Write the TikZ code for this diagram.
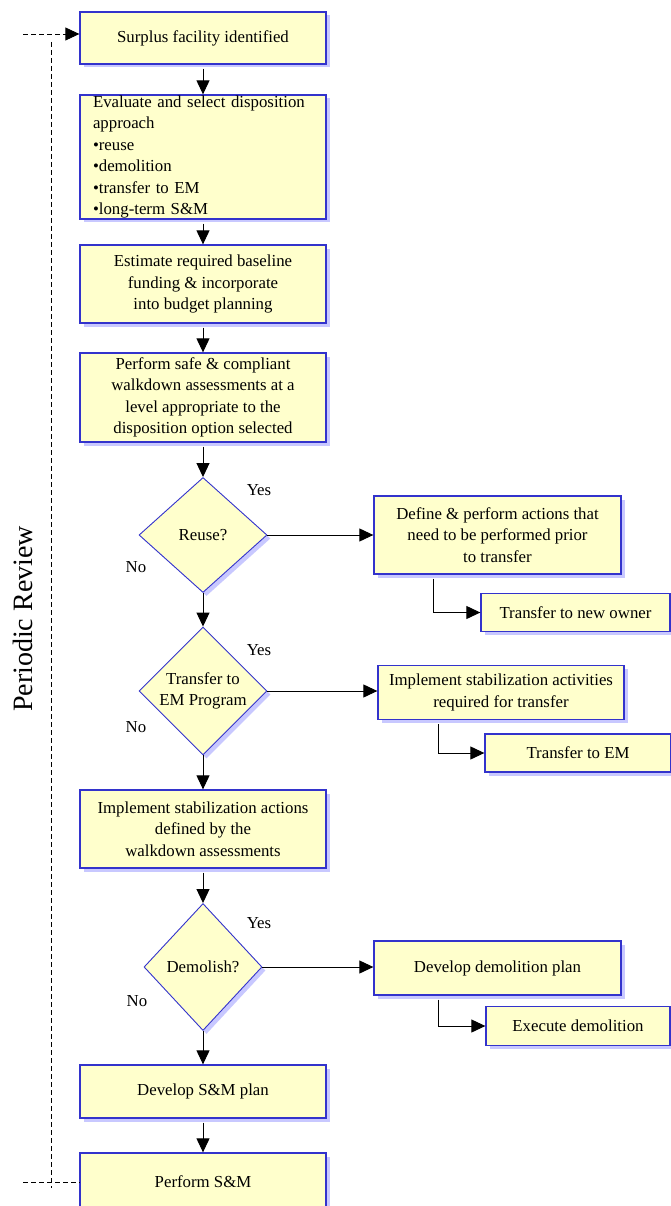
\documentclass[tikz,border=0pt]{standalone}
\usepackage{fontspec}
\setmainfont{Liberation Serif}
\usetikzlibrary{arrows.meta,shapes.geometric,shadows}
\definecolor{boxfill}{RGB}{255,255,204}
\definecolor{boxline}{RGB}{51,51,204}
\definecolor{boxshade}{RGB}{200,200,255}

\begin{document}
\begin{tikzpicture}[x=1pt, y=-1pt,
    font=\fontsize{16.8}{21.5}\selectfont,
    boxshadow/.style={drop shadow={shadow xshift=3.5pt, shadow yshift=-3.5pt, fill=boxshade, opacity=1}},
    stepbox/.style={draw=boxline, line width=1.3pt, fill=boxfill, boxshadow, align=center, inner sep=0pt, minimum width=246pt},
    test/.style={diamond, draw=boxline, line width=0.9pt, fill=boxfill, boxshadow, align=center, inner sep=0pt, minimum width=128pt},
    flow/.style={-{Triangle[length=14pt,width=13pt]}, line width=1pt, shorten <=4pt},
    review/.style={dash pattern=on 5pt off 3pt, line width=0.8pt}]
    \path[use as bounding box, clip] (0,0) rectangle (671,1206);

    % main column
    \node[stepbox, minimum height=52pt] (found) at (203,38) {Surplus facility identified};
    \node[stepbox, minimum height=124pt, align=left, text width=220pt] (select) at (203,157)
        {Evaluate and select disposition\\approach\\•reuse\\•demolition\\•transfer to EM\\•long-term S\&M};
    \node[stepbox, minimum height=78pt] (budget) at (203,284) {Estimate required baseline\\funding \& incorporate\\into budget planning};
    \node[stepbox, minimum height=89pt] (walkdown) at (203,397.5) {Perform safe \& compliant\\walkdown assessments at a\\level appropriate to the\\disposition option selected};
    \node[test, minimum height=115pt] (reuse) at (203,535) {Reuse?};
    \node[test, minimum height=128pt] (toem) at (203,691) {Transfer to\\EM Program};
    \node[stepbox, minimum height=78pt] (stabil) at (203,829) {Implement stabilization actions\\defined by the\\walkdown assessments};
    \node[test, minimum width=118pt, minimum height=127pt] (demolish) at (203,967) {Demolish?};
    \node[stepbox, minimum height=53pt] (smplan) at (203,1091.5) {Develop S\&M plan};
    \node[stepbox, minimum height=58pt] (performsm) at (203,1182) {Perform S\&M};

    % side branches
    \node[stepbox, minimum width=247pt, minimum height=78pt] (prior) at (497.5,535) {Define \& perform actions that\\need to be performed prior\\to transfer};
    \node[stepbox, minimum width=189pt, minimum height=38pt] (newowner) at (575.5,612.5) {Transfer to new owner};
    \node[stepbox, minimum height=54pt] (stabact) at (501,692.5) {Implement stabilization activities\\required for transfer};
    \node[stepbox, minimum width=186pt, minimum height=38pt] (emxfer) at (578,753) {Transfer to EM};
    \node[stepbox, minimum width=247pt, minimum height=54pt] (demplan) at (497.5,968) {Develop demolition plan};
    \node[stepbox, minimum width=184pt, minimum height=39pt] (execdem) at (578,1026) {Execute demolition};

    % yes / no
    \node (yes1) at ([shift={(56,-45)}]reuse) {Yes};
    \node (no1) at ([shift={(-67,32)}]reuse) {No};
    \node (yes2) at ([shift={(56,-41)}]toem) {Yes};
    \node (no2) at ([shift={(-67,36)}]toem) {No};
    \node (yes3) at ([shift={(56,-44)}]demolish) {Yes};
    \node (no3) at ([shift={(-66,34)}]demolish) {No};

    \node[rotate=90, font=\fontsize{28}{34}\selectfont] (periodic) at (23,619) {Periodic Review};

    \draw[flow] (found) -- (select);
    \draw[flow] (select) -- (budget);
    \draw[flow] (budget) -- (walkdown);
    \draw[flow] (walkdown) -- (reuse);
    \draw[flow, shorten <=0pt] (reuse) -- (toem);
    \draw[flow, shorten <=0pt] (toem) -- (stabil);
    \draw[flow] (stabil) -- (demolish);
    \draw[flow, shorten <=0pt] (demolish) -- (smplan);
    \draw[flow] (smplan) -- (performsm);

    \draw[flow, shorten <=0pt] (reuse.east) -- (reuse.east -| prior.west);
    \draw[flow, shorten <=0pt] (toem.east) -- (toem.east -| stabact.west);
    \draw[flow, shorten <=0pt] (demolish.east) -- (demolish.east -| demplan.west);
    \draw[flow] ([xshift=60pt]prior.south west) |- (newowner);
    \draw[flow] ([xshift=61pt]stabact.south west) |- (emxfer);
    \draw[flow] ([xshift=65pt]demplan.south west) |- (execdem);

    % periodic review loop
    \coordinate (looptop) at (23,34);
    \coordinate (loopbot) at (23,1182);
    \coordinate (railtop) at (51,42);
    \coordinate (railbot) at (51,1188);
    \draw[review, -{Triangle[length=14pt,width=13pt]}] (looptop) -- (looptop -| found.west);
    \draw[review] (loopbot) -- (performsm.west);
    \draw[review] (railtop) -- (railbot);
\end{tikzpicture}
\end{document}
